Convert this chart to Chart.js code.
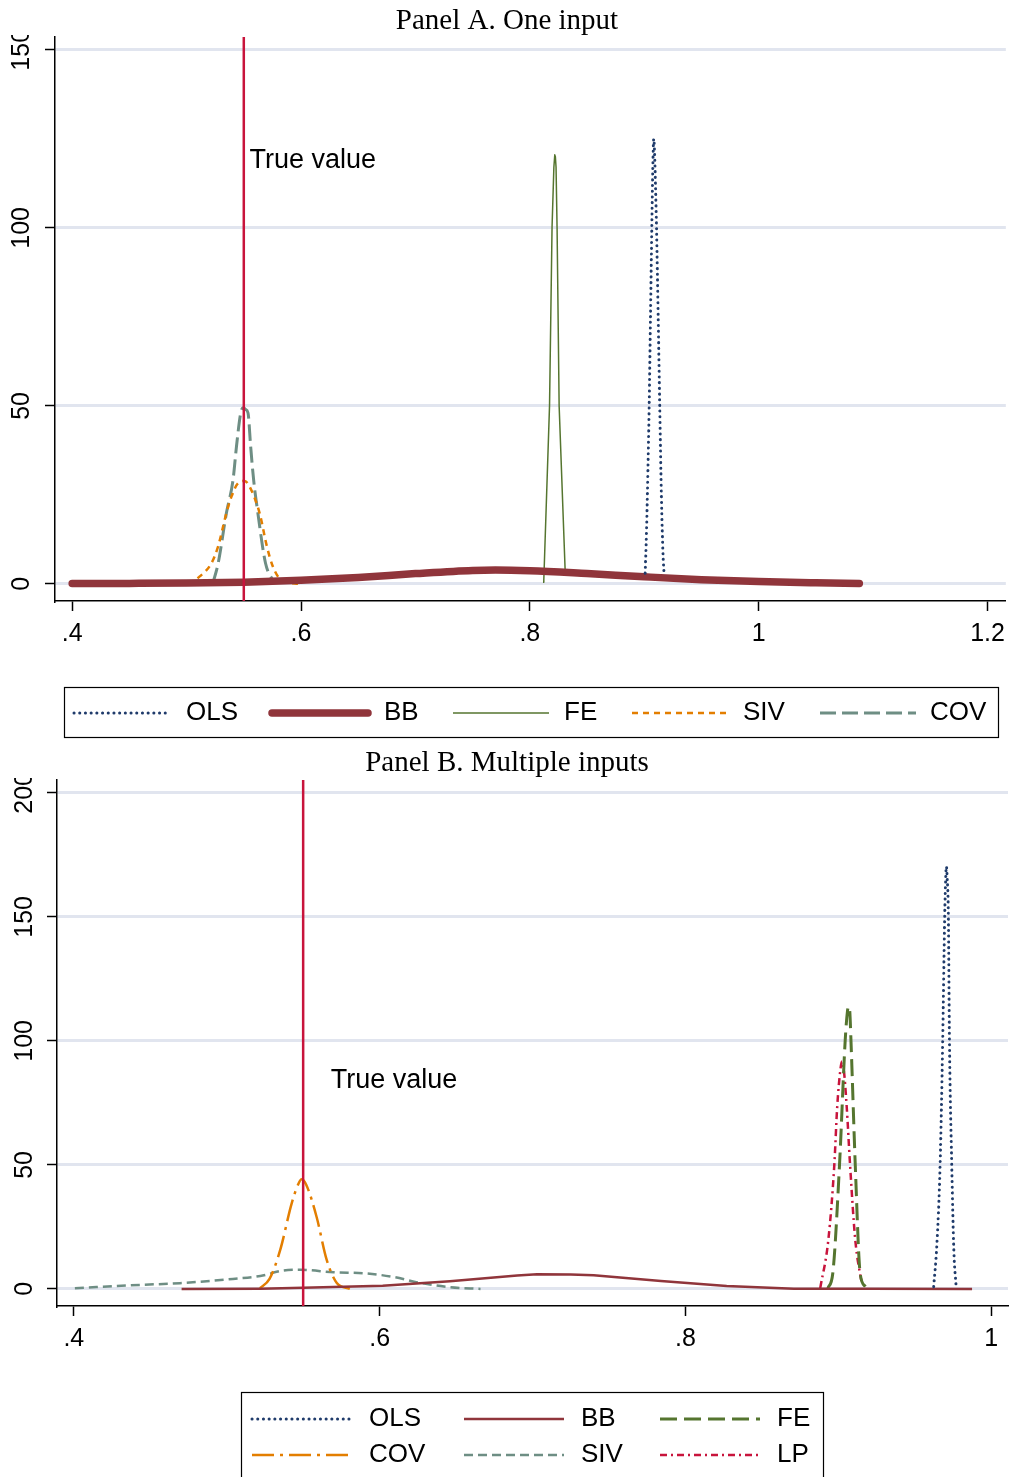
<!DOCTYPE html>
<html><head><meta charset="utf-8">
<script src="https://cdn.jsdelivr.net/npm/chart.js@4.4.1/dist/chart.umd.min.js"></script>
<style>html,body{margin:0;padding:0;background:#fff;}canvas{display:block;}</style>
</head><body>
<canvas id="a" width="1013" height="742" style="width:1013px;height:742px"></canvas>
<canvas id="b" width="1013" height="735" style="width:1013px;height:735px"></canvas>
<script>
// ---------- Panel A data ----------
const aTitle = 'Panel A. One input';
const aXTicks = [0.4, 0.6, 0.8, 1.0, 1.2];
const aXTickLabels = ['.4', '.6', '.8', '1', '1.2'];
const aYTicks = [0, 50, 100, 150];
const aYTickLabels = ['0', '50', '100', '150'];
const aTrueValue = 0.55;
const aTrueLabel = {x: 0.555, y: 119, text: 'True value'};
const aSeriesNames = ['OLS', 'BB', 'FE', 'SIV', 'COV'];
const aOlsX = [0.9008, 0.9020, 0.9032, 0.9043, 0.9055, 0.9066, 0.9075, 0.9083, 0.9090, 0.9098, 0.9107, 0.9121, 0.9135, 0.9150, 0.9163, 0.9174];
const aOlsY = [3, 15, 32, 50, 76, 100, 117, 125, 121, 112, 100, 76, 50, 24, 9, 2.2];
const aBbX = [0.40, 0.45, 0.50, 0.55, 0.60, 0.65, 0.70, 0.75, 0.77, 0.80, 0.85, 0.90, 0.95, 1.00, 1.05, 1.088];
const aBbY = [0.1, 0.15, 0.25, 0.5, 1.0, 1.8, 2.9, 3.8, 3.9, 3.7, 2.9, 2.0, 1.2, 0.65, 0.3, 0.1];
const aFeX = [0.8115, 0.8122, 0.8172, 0.8194, 0.8210, 0.8218, 0.8223, 0.8229, 0.8238, 0.8256, 0.8310];
const aFeY = [0.5, 1.1, 50, 100, 117, 120.5, 120, 117, 100, 50, 2.5];
const aSivX = [0.5014, 0.5115, 0.5217, 0.5275, 0.5348, 0.5392, 0.5450, 0.5508, 0.5551, 0.5638, 0.5702, 0.5754, 0.5827, 0.5987];
const aSivY = [0, 2.1, 5.8, 10.5, 19.9, 24.5, 28.3, 28.9, 27.3, 19.9, 10.5, 4.9, 1.1, 0];
const aCovX = [0.5230, 0.5276, 0.5348, 0.5406, 0.5436, 0.5473, 0.5495, 0.5515, 0.5537, 0.5560, 0.5586, 0.5623, 0.5690, 0.5770];
const aCovY = [0.2, 5.8, 19.9, 29.2, 38.6, 48, 49.5, 49, 48, 38.6, 29.2, 19.9, 5.8, 0.2];

// ---------- Panel B data ----------
const bTitle = 'Panel B. Multiple inputs';
const bXTicks = [0.4, 0.6, 0.8, 1.0];
const bXTickLabels = ['.4', '.6', '.8', '1'];
const bYTicks = [0, 50, 100, 150, 200];
const bYTickLabels = ['0', '50', '100', '150', '200'];
const bTrueValue = 0.55;
const bTrueLabel = {x: 0.568, y: 84, text: 'True value'};
const bSeriesNames = ['OLS', 'BB', 'FE', 'COV', 'SIV', 'LP'];
const bOlsX = [0.9624, 0.9645, 0.9666, 0.9683, 0.9696, 0.9703, 0.9707, 0.9712, 0.9720, 0.9727, 0.9742, 0.9756, 0.9770];
const bOlsY = [0.9, 18, 50, 100, 150, 166, 170.3, 166, 150, 100, 50, 15, 1.6];
const bBbX = [0.4705, 0.522, 0.550, 0.602, 0.646, 0.690, 0.703, 0.725, 0.740, 0.784, 0.827, 0.871, 0.920, 0.9875];
const bBbY = [0, 0.1, 0.5, 1.3, 3.1, 5.4, 5.9, 5.8, 5.5, 3.2, 1.2, 0.1, 0.05, 0];
const bFeX = [0.8932, 0.8964, 0.9008, 0.9045, 0.9060, 0.9067, 0.9075, 0.9083, 0.9111, 0.9143, 0.9177];
const bFeY = [0.3, 6.3, 50, 100, 112, 113.8, 112, 100, 50, 6.3, 0.9];
const bCovX = [0.5217, 0.528, 0.535, 0.5425, 0.547, 0.549, 0.552, 0.5588, 0.5654, 0.572, 0.5806];
const bCovY = [0.3, 4, 15.7, 34.5, 42.5, 44.2, 42, 29, 11.7, 2.4, 0];
const bSivX = [0.4007, 0.443, 0.4694, 0.504, 0.522, 0.537, 0.548, 0.570, 0.5915, 0.610, 0.624, 0.646, 0.666];
const bSivY = [0.3, 1.6, 2.3, 4.0, 5.2, 7.4, 7.7, 6.7, 6.2, 4.7, 2.7, 0.7, 0];
const bLpX = [0.8882, 0.8935, 0.8974, 0.8993, 0.9015, 0.9024, 0.9035, 0.9055, 0.9077, 0.9111, 0.9155];
const bLpY = [0.3, 19.8, 50, 73.5, 89, 91.7, 89, 73.5, 50, 19.8, 1.6];

// ---------- styling ----------
const RED = '#c8143c', NAVY = '#1f3b6b', MAROON = '#90353b', GREEN = '#55752f', ORANGE = '#e37e00', TEAL = '#6e8e84';
const SANS = '"Liberation Sans", Arial, Helvetica, sans-serif';
const SERIF = '"Liberation Serif", "Times New Roman", serif';

function pts(xs, ys) { return xs.map((x, i) => ({x: x, y: ys[i]})); }
function ds(label, xs, ys, color, width, dash, cap, smooth) {
  return {label: label, data: pts(xs, ys), borderColor: color, borderWidth: width, borderDash: dash,
    borderCapStyle: cap || 'butt', borderJoinStyle: 'round', pointRadius: 0, fill: false,
    cubicInterpolationMode: smooth === false ? 'default' : 'monotone', tension: 0};
}

const decor = {
  id: 'decor',
  afterDatasetsDraw(chart, args, o) {
    const {ctx, chartArea: ca, scales: {x, y}} = chart;
    ctx.save();
    const xv = x.getPixelForValue(o.trueX);
    ctx.strokeStyle = RED; ctx.lineWidth = 2.5; ctx.setLineDash([]);
    ctx.beginPath(); ctx.moveTo(xv, ca.top); ctx.lineTo(xv, ca.bottom); ctx.stroke();
    ctx.fillStyle = '#000'; ctx.font = '27px ' + SANS; ctx.textAlign = 'left'; ctx.textBaseline = 'middle';
    ctx.fillText(o.label.text, x.getPixelForValue(o.label.x), y.getPixelForValue(o.label.y));
    ctx.restore();
  },
  afterDraw(chart, args, o) {
    const {ctx, chartArea: ca, scales: {y}} = chart;
    // title
    ctx.save();
    ctx.fillStyle = '#000'; ctx.font = '29px ' + SERIF; ctx.textAlign = 'center'; ctx.textBaseline = 'middle';
    ctx.fillText(o.title, o.titleX, o.titleY);
    ctx.restore();
    // rotated y tick labels
    ctx.save();
    ctx.beginPath(); ctx.rect(0, ca.top - 2, ca.left, chart.height); ctx.clip();
    ctx.fillStyle = '#000'; ctx.font = '25px ' + SANS; ctx.textAlign = 'center'; ctx.textBaseline = 'middle';
    o.yTicks.forEach((v, i) => {
      const py = y.getPixelForValue(v);
      ctx.save(); ctx.translate(o.yLabelX, py); ctx.rotate(-Math.PI / 2);
      ctx.fillText(o.yLabels[i], 0, 0); ctx.restore();
    });
    ctx.restore();
    // legend
    const L = o.legend;
    ctx.save();
    ctx.strokeStyle = '#000'; ctx.lineWidth = 1.2; ctx.setLineDash([]);
    ctx.strokeRect(L.box[0] + 0.5, L.box[1] + 0.5, L.box[2], L.box[3]);
    L.items.forEach(it => {
      const d = chart.data.datasets[it.i];
      ctx.save();
      ctx.strokeStyle = d.borderColor; ctx.lineWidth = d.borderWidth; ctx.lineCap = d.borderCapStyle;
      ctx.setLineDash(d.borderDash || []);
      ctx.beginPath(); ctx.moveTo(it.sx, it.cy); ctx.lineTo(it.sx + L.len, it.cy); ctx.stroke();
      ctx.restore();
      ctx.fillStyle = '#000'; ctx.font = '26px ' + SANS; ctx.textAlign = 'left'; ctx.textBaseline = 'middle';
      ctx.fillText(d.label, it.tx, it.cy);
    });
    ctx.restore();
  }
};

function makeChart(id, p) {
  return new Chart(document.getElementById(id), {
    type: 'line',
    data: {datasets: p.datasets},
    options: {
      responsive: false, animation: false, devicePixelRatio: 1,
      layout: {padding: {top: p.top, right: 5, left: 0, bottom: 0}},
      plugins: {legend: {display: false}, tooltip: {enabled: false}, title: {display: false}, decor: p.decor},
      scales: {
        x: {type: 'linear', min: p.xMin, max: p.xMax,
          afterBuildTicks: s => { s.ticks = p.xTicks.map(v => ({value: v})); },
          afterFit: s => { s.height = p.xAxisH; },
          ticks: {callback: (v, i) => p.xLabels[i], color: '#000', font: {family: SANS, size: 25}, padding: 8,
            maxRotation: 0, minRotation: 0, autoSkip: false},
          grid: {drawOnChartArea: false, drawTicks: true, tickLength: 10, tickColor: '#000', tickWidth: 1.5},
          border: {display: true, color: '#000', width: 1.5}},
        y: {type: 'linear', min: p.yMin, max: p.yMax,
          afterBuildTicks: s => { s.ticks = p.yTicks.map(v => ({value: v})); },
          afterFit: s => { s.width = p.yAxisW; },
          ticks: {display: false},
          grid: {color: '#e1e5ef', lineWidth: 3, drawTicks: true, tickLength: 10, tickColor: '#000', tickWidth: 1.5},
          border: {display: true, color: '#000', width: 1.5}}
      }
    },
    plugins: [decor]
  });
}

makeChart('a', {
  top: 37, xMin: 0.385, xMax: 1.216, yMin: -4.8, yMax: 153.6, xAxisH: 141, yAxisW: 55,
  xTicks: aXTicks, xLabels: aXTickLabels, yTicks: aYTicks,
  datasets: [
    ds(aSeriesNames[0], aOlsX, aOlsY, NAVY, 3, [0.1, 5.6], 'round'),
    ds(aSeriesNames[1], aBbX, aBbY, MAROON, 7.5, [], 'round'),
    ds(aSeriesNames[2], aFeX, aFeY, GREEN, 1.5, [], 'butt', false),
    ds(aSeriesNames[3], aSivX, aSivY, ORANGE, 2.5, [6, 5]),
    ds(aSeriesNames[4], aCovX, aCovY, TEAL, 3, [16, 6])
  ],
  decor: {
    trueX: aTrueValue, label: aTrueLabel, title: aTitle, titleX: 507, titleY: 21,
    yTicks: aYTicks, yLabels: aYTickLabels, yLabelX: 22,
    legend: {box: [64, 687, 934, 50], len: 96, items: [
      {i: 0, sx: 74, tx: 186, cy: 713}, {i: 1, sx: 272, tx: 384, cy: 713}, {i: 2, sx: 453, tx: 564, cy: 713},
      {i: 3, sx: 632, tx: 743, cy: 713}, {i: 4, sx: 820, tx: 930, cy: 713}]}
  }
});

makeChart('b', {
  top: 38, xMin: 0.389, xMax: 1.011, yMin: -6.9, yMax: 205.2, xAxisH: 171, yAxisW: 57,
  xTicks: bXTicks, xLabels: bXTickLabels, yTicks: bYTicks,
  datasets: [
    ds(bSeriesNames[0], bOlsX, bOlsY, NAVY, 3, [0.1, 5.6], 'round'),
    ds(bSeriesNames[1], bBbX, bBbY, MAROON, 2.5, [], 'butt', false),
    ds(bSeriesNames[2], bFeX, bFeY, GREEN, 3, [17, 7]),
    ds(bSeriesNames[3], bCovX, bCovY, ORANGE, 2.5, [22, 6, 3, 6]),
    ds(bSeriesNames[4], bSivX, bSivY, TEAL, 2.5, [9, 5]),
    ds(bSeriesNames[5], bLpX, bLpY, RED, 2.5, [7, 4, 2, 4])
  ],
  decor: {
    trueX: bTrueValue, label: bTrueLabel, title: bTitle, titleX: 507, titleY: 21,
    yTicks: bYTicks, yLabels: bYTickLabels, yLabelX: 25,
    legend: {box: [241, 650, 582, 100], len: 100, items: [
      {i: 0, sx: 252, tx: 369, cy: 677}, {i: 1, sx: 464, tx: 581, cy: 677}, {i: 2, sx: 660, tx: 777, cy: 677},
      {i: 3, sx: 252, tx: 369, cy: 713}, {i: 4, sx: 464, tx: 581, cy: 713}, {i: 5, sx: 660, tx: 777, cy: 713}]}
  }
});
</script>
</body></html>
